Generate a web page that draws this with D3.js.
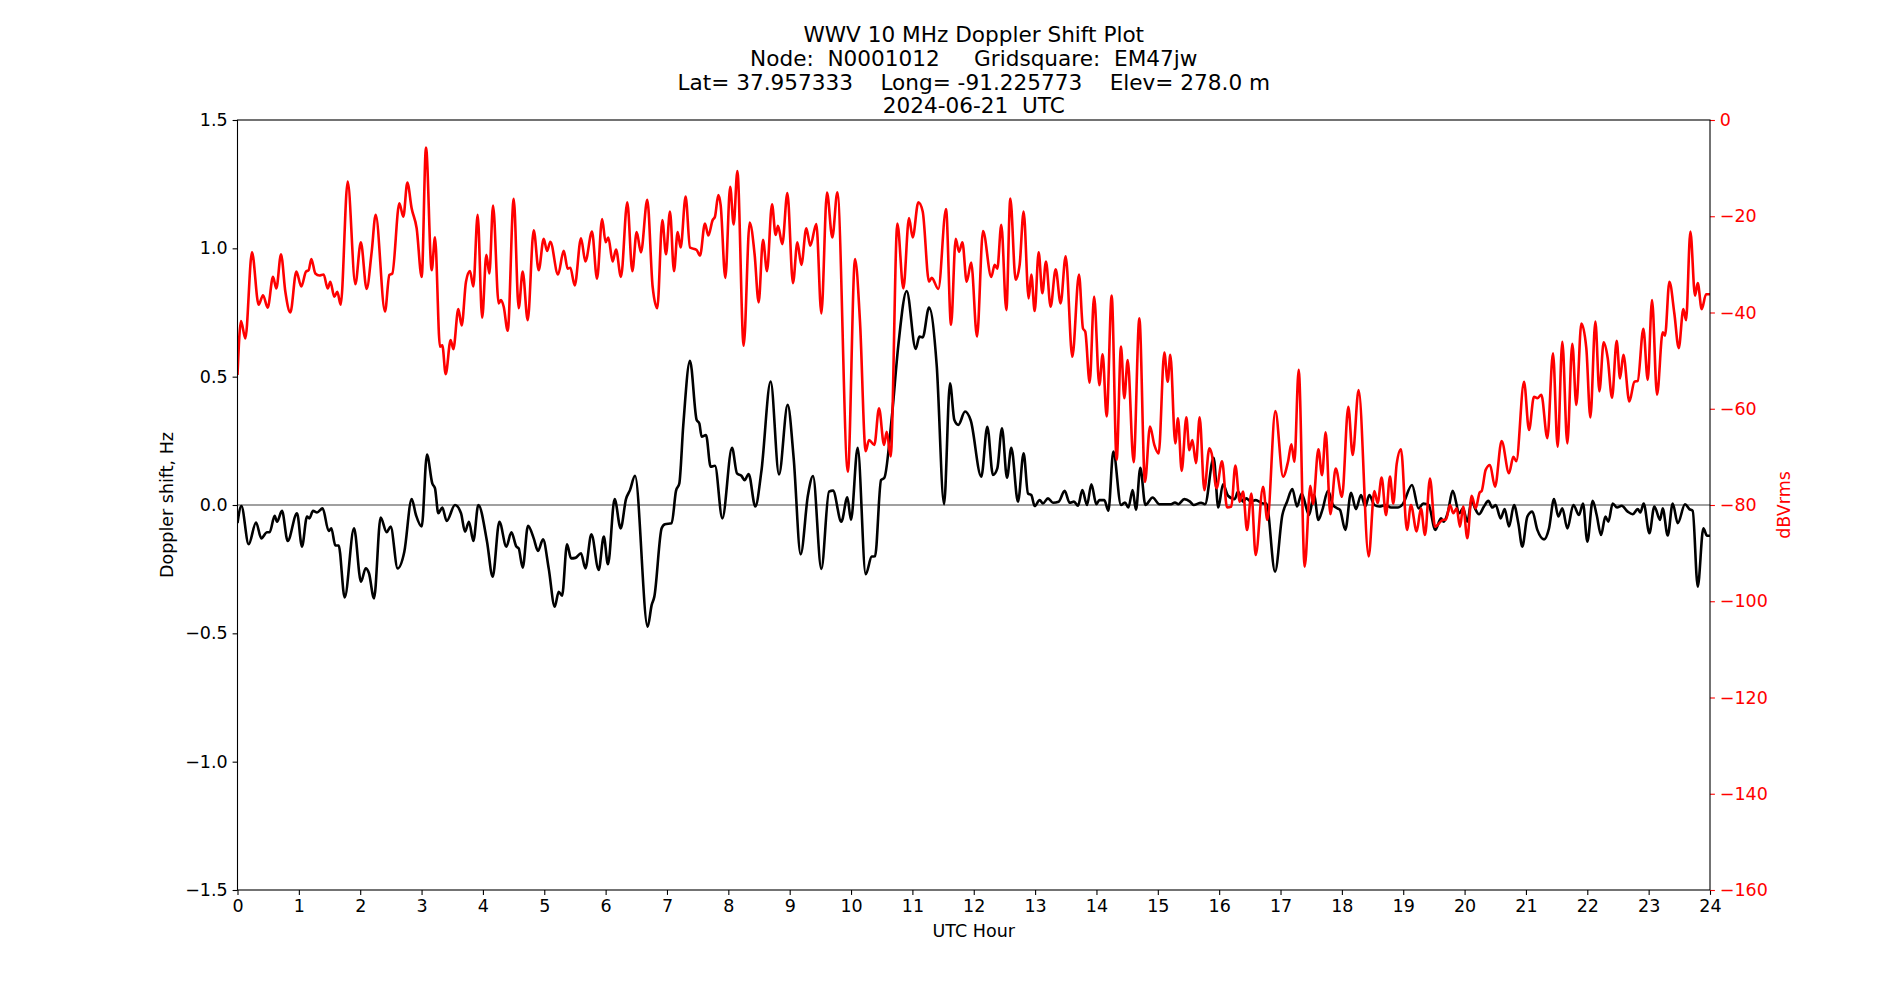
<!DOCTYPE html>
<html lang="en"><head>
<meta charset="utf-8">
<title>WWV Doppler Shift Plot</title>
<script src="https://cdn.jsdelivr.net/npm/d3@7"></script>
<style>
body { margin: 0; background: #fff; }
text { font-family: "DejaVu Sans", sans-serif; }
</style>
</head>
<body>
<script type="text/javascript">

var width = 1900;
var height = 1000;

var titleLines = [
    "WWV 10 MHz Doppler Shift Plot",
    "Node:  N0001012     Gridsquare:  EM47jw",
    "Lat= 37.957333    Long= -91.225773    Elev= 278.0 m",
    "2024-06-21  UTC"
];

var hourTicks = d3.range(0, 25);
var hzTicks = [-1.5, -1.0, -0.5, 0.0, 0.5, 1.0, 1.5];
var dbTicks = [-160, -140, -120, -100, -80, -60, -40, -20, 0];

// Doppler shift (Hz) vs UTC hour
var doppler = [
    [0.0, -0.07], [0.063, -0.004], [0.182, -0.153], [0.302, -0.068], [0.389, -0.13],
    [0.481, -0.106], [0.524, -0.106], [0.606, -0.042], [0.644, -0.065], [0.725, -0.023],
    [0.818, -0.14], [0.970, -0.032], [1.051, -0.162], [1.133, -0.045], [1.171, -0.052],
    [1.231, -0.023], [1.296, -0.029], [1.388, -0.013], [1.486, -0.101], [1.529, -0.091],
    [1.595, -0.158], [1.649, -0.158], [1.747, -0.36], [1.899, -0.091], [2.013, -0.299],
    [2.089, -0.247], [2.143, -0.266], [2.225, -0.364], [2.333, -0.049], [2.431, -0.106],
    [2.496, -0.084], [2.610, -0.247], [2.719, -0.182], [2.839, 0.023], [2.909, -0.039],
    [3.002, -0.084], [3.088, 0.197], [3.175, 0.084], [3.219, 0.065], [3.273, -0.032],
    [3.338, -0.01], [3.409, -0.062], [3.545, 0.0], [3.643, -0.032], [3.708, -0.104],
    [3.773, -0.065], [3.844, -0.14], [3.925, 0.0], [4.067, -0.143], [4.159, -0.279],
    [4.268, -0.065], [4.382, -0.162], [4.464, -0.106], [4.545, -0.162], [4.583, -0.169],
    [4.648, -0.244], [4.735, -0.081], [4.828, -0.13], [4.898, -0.179], [4.980, -0.134],
    [5.072, -0.247], [5.170, -0.396], [5.235, -0.338], [5.290, -0.353], [5.371, -0.153],
    [5.436, -0.208], [5.507, -0.206], [5.599, -0.188], [5.670, -0.247], [5.768, -0.114],
    [5.887, -0.253], [5.970, -0.123], [6.038, -0.231], [6.147, 0.023], [6.245, -0.091],
    [6.332, 0.023], [6.397, 0.058], [6.479, 0.114], [6.685, -0.474], [6.750, -0.39],
    [6.794, -0.357], [6.913, -0.091], [6.967, -0.075], [7.076, -0.071], [7.147, 0.055],
    [7.201, 0.084], [7.266, 0.312], [7.375, 0.562], [7.484, 0.331], [7.527, 0.318],
    [7.565, 0.266], [7.636, 0.273], [7.712, 0.149], [7.782, 0.153], [7.902, -0.052],
    [8.060, 0.223], [8.141, 0.123], [8.212, 0.114], [8.266, 0.097], [8.331, 0.121],
    [8.440, -0.006], [8.538, 0.13], [8.690, 0.481], [8.826, 0.119], [8.967, 0.39],
    [9.065, 0.182], [9.179, -0.192], [9.298, 0.039], [9.380, 0.113], [9.516, -0.249],
    [9.641, 0.052], [9.706, 0.056], [9.842, -0.065], [9.940, 0.03], [9.999, -0.058],
    [10.108, 0.223], [10.239, -0.27], [10.337, -0.201], [10.391, -0.2], [10.489, 0.097],
    [10.543, 0.106], [10.663, 0.338], [10.771, 0.623], [10.907, 0.834], [11.054, 0.608],
    [11.114, 0.656], [11.168, 0.653], [11.271, 0.769], [11.396, 0.545], [11.516, 0.003],
    [11.613, 0.474], [11.684, 0.331], [11.749, 0.312], [11.858, 0.364], [11.950, 0.33],
    [12.123, 0.11], [12.221, 0.305], [12.313, 0.117], [12.384, 0.143], [12.460, 0.299],
    [12.542, 0.106], [12.612, 0.223], [12.721, 0.013], [12.813, 0.201], [12.884, 0.045],
    [12.938, 0.039], [12.993, -0.004], [13.074, 0.019], [13.128, 0.006], [13.210, 0.026],
    [13.291, 0.009], [13.384, 0.013], [13.482, 0.055], [13.563, 0.009], [13.634, 0.013],
    [13.699, -0.003], [13.770, 0.058], [13.846, 0.0], [13.917, 0.081], [13.998, 0.003],
    [14.047, 0.019], [14.128, 0.019], [14.194, -0.022], [14.275, 0.208], [14.400, 0.0],
    [14.465, 0.01], [14.520, -0.01], [14.590, 0.058], [14.644, -0.019], [14.715, 0.145],
    [14.797, 0.0], [14.916, 0.029], [15.025, 0.003], [15.215, 0.003], [15.280, 0.01],
    [15.334, 0.003], [15.432, 0.023], [15.525, 0.013], [15.584, 0.0], [15.704, 0.009],
    [15.769, 0.003], [15.910, 0.184], [15.986, -0.01], [16.063, 0.081], [16.145, 0.036],
    [16.253, 0.023], [16.307, 0.052], [16.389, 0.013], [16.443, 0.026], [16.514, 0.013],
    [16.595, 0.019], [16.715, 0.006], [16.769, 0.006], [16.911, -0.26], [17.030, -0.039],
    [17.106, 0.013], [17.193, 0.062], [17.269, -0.006], [17.345, 0.045], [17.465, -0.039],
    [17.546, 0.039], [17.617, -0.058], [17.682, -0.019], [17.774, 0.055], [17.856, 0.0],
    [17.926, -0.013], [17.969, -0.019], [18.056, -0.097], [18.149, 0.048], [18.230, -0.016],
    [18.312, 0.039], [18.382, -0.006], [18.447, 0.039], [18.529, 0.0], [18.610, -0.006],
    [18.719, 0.0], [18.800, -0.01], [18.909, -0.01], [18.991, 0.003], [19.143, 0.078],
    [19.251, -0.013], [19.327, 0.006], [19.414, 0.0], [19.523, -0.097], [19.615, -0.052],
    [19.659, -0.065], [19.724, -0.032], [19.806, 0.055], [19.915, -0.032], [19.974, -0.013],
    [20.045, -0.065], [20.115, 0.019], [20.170, -0.013], [20.235, -0.036], [20.316, -0.006],
    [20.387, 0.016], [20.452, -0.01], [20.507, 0.0], [20.588, -0.052], [20.653, -0.016],
    [20.724, -0.084], [20.806, 0.0], [20.876, -0.071], [20.941, -0.162], [21.023, -0.045],
    [21.104, -0.026], [21.186, -0.097], [21.295, -0.134], [21.376, -0.091], [21.458, 0.023],
    [21.528, -0.045], [21.593, -0.013], [21.675, -0.091], [21.773, 0.0], [21.865, -0.039],
    [21.930, 0.006], [22.001, -0.143], [22.088, 0.016], [22.153, -0.039], [22.224, -0.117],
    [22.295, -0.045], [22.344, -0.065], [22.414, 0.006], [22.485, -0.01], [22.561, -0.003],
    [22.659, -0.026], [22.740, -0.036], [22.822, -0.016], [22.865, -0.029], [22.919, 0.006],
    [23.012, -0.11], [23.093, -0.006], [23.186, -0.058], [23.229, -0.013], [23.311, -0.119],
    [23.392, 0.006], [23.474, -0.071], [23.593, 0.003], [23.664, -0.016], [23.718, -0.023],
    [23.800, -0.318], [23.892, -0.091], [23.952, -0.12], [24.0, -0.12]
];

// received power (dBVrms) vs UTC hour
var power = [
    [0.0, -53], [0.057, -41.8], [0.128, -45.4], [0.236, -27.5], [0.345, -38.4],
    [0.416, -36.4], [0.492, -39.0], [0.579, -32.6], [0.633, -35.0], [0.709, -27.9],
    [0.780, -35.7], [0.861, -40.0], [0.959, -31.5], [1.040, -34.6], [1.116, -31.5],
    [1.160, -31.2], [1.203, -28.9], [1.269, -31.9], [1.334, -32.3], [1.404, -32.1],
    [1.470, -35.0], [1.513, -33.6], [1.578, -36.7], [1.627, -35.7], [1.682, -38.4],
    [1.796, -12.8], [1.921, -34.1], [2.010, -25.4], [2.105, -35.1], [2.187, -27.4],
    [2.252, -19.7], [2.404, -39.8], [2.475, -32.2], [2.523, -31.9], [2.638, -17.3],
    [2.703, -20.1], [2.768, -13.0], [2.839, -18.4], [2.920, -22.5], [3.002, -32.6],
    [3.072, -5.7], [3.165, -31.2], [3.219, -24.4], [3.300, -47.1], [3.338, -46.8],
    [3.393, -52.8], [3.474, -45.7], [3.518, -47.6], [3.599, -39.3], [3.654, -42.7],
    [3.724, -33.6], [3.789, -31.4], [3.844, -34.6], [3.914, -19.7], [3.988, -41.1],
    [4.056, -28.0], [4.105, -31.9], [4.165, -17.8], [4.257, -38.1], [4.295, -37.4],
    [4.339, -38.8], [4.404, -43.8], [4.502, -16.4], [4.583, -39.1], [4.648, -31.5],
    [4.730, -41.6], [4.828, -22.9], [4.909, -31.2], [4.991, -24.7], [5.045, -27.2],
    [5.099, -25.3], [5.224, -32.1], [5.317, -27.2], [5.382, -30.9], [5.425, -30.7],
    [5.496, -34.4], [5.599, -24.6], [5.670, -29.4], [5.778, -23.2], [5.860, -33.0],
    [5.943, -20.6], [6.000, -25.4], [6.044, -24.4], [6.114, -29.4], [6.169, -26.9],
    [6.250, -32.6], [6.353, -17.1], [6.435, -31.4], [6.506, -23.3], [6.576, -27.5],
    [6.679, -16.6], [6.766, -34.6], [6.842, -39.1], [6.924, -20.8], [6.984, -27.9],
    [7.049, -19.0], [7.114, -31.4], [7.174, -23.3], [7.223, -26.5], [7.304, -15.9],
    [7.375, -26.5], [7.484, -27.0], [7.538, -28.2], [7.619, -21.5], [7.674, -24.0],
    [7.744, -20.8], [7.782, -20.1], [7.837, -15.6], [7.875, -17.7], [7.951, -32.8],
    [8.030, -13.9], [8.087, -21.7], [8.147, -10.6], [8.250, -46.9], [8.348, -21.3],
    [8.429, -28.0], [8.494, -37.9], [8.565, -24.9], [8.630, -31.4], [8.712, -17.5],
    [8.771, -23.9], [8.809, -22.0], [8.880, -25.8], [8.962, -15.2], [9.054, -33.9],
    [9.125, -25.4], [9.190, -30.1], [9.271, -22.5], [9.336, -26.1], [9.434, -21.6],
    [9.516, -40.2], [9.608, -15.1], [9.695, -24.4], [9.777, -15.0], [9.948, -73.1],
    [10.065, -28.9], [10.146, -41.9], [10.239, -68.8], [10.293, -66.5], [10.380, -67.5],
    [10.456, -59.9], [10.538, -67.5], [10.581, -64.8], [10.646, -69.9], [10.755, -21.5],
    [10.853, -35.0], [10.945, -20.4], [11.005, -24.4], [11.097, -17.1], [11.168, -19.0],
    [11.271, -33.6], [11.315, -32.8], [11.423, -35.1], [11.548, -18.5], [11.630, -42.6],
    [11.706, -24.7], [11.760, -27.4], [11.815, -25.4], [11.885, -33.6], [11.958, -29.6],
    [12.053, -45.0], [12.151, -23.1], [12.286, -32.6], [12.341, -30.1], [12.384, -30.9],
    [12.449, -21.8], [12.531, -39.5], [12.596, -16.3], [12.683, -33.2], [12.748, -30.1],
    [12.813, -19.0], [12.895, -37.1], [12.938, -32.1], [12.993, -39.7], [13.058, -27.5],
    [13.118, -36.0], [13.177, -29.4], [13.253, -38.8], [13.335, -31.0], [13.416, -38.1],
    [13.498, -28.3], [13.607, -49.2], [13.715, -32.1], [13.780, -43.3], [13.818, -44.0],
    [13.889, -54.6], [13.962, -36.7], [14.047, -55.1], [14.101, -48.7], [14.166, -61.6],
    [14.248, -36.5], [14.329, -70.6], [14.400, -47.1], [14.454, -57.8], [14.509, -49.9],
    [14.606, -71.1], [14.699, -41.2], [14.791, -75.2], [14.873, -63.7], [14.943, -67.5],
    [15.014, -69.3], [15.106, -48.3], [15.161, -54.4], [15.204, -48.8], [15.285, -67.2],
    [15.329, -62.0], [15.389, -72.9], [15.465, -61.8], [15.514, -68.6], [15.563, -66.5],
    [15.622, -71.3], [15.682, -61.8], [15.758, -76.9], [15.840, -68.2], [15.878, -69.3],
    [15.957, -76.5], [16.047, -70.9], [16.128, -80.5], [16.199, -80.3], [16.264, -71.8],
    [16.335, -79.3], [16.389, -77.2], [16.454, -85.2], [16.525, -77.6], [16.595, -90.4],
    [16.715, -76.2], [16.786, -83.1], [16.916, -60.5], [17.041, -74.1], [17.122, -71.0],
    [17.177, -67.4], [17.226, -71.0], [17.296, -51.9], [17.394, -92.8], [17.486, -76.0],
    [17.530, -79.8], [17.617, -68.4], [17.677, -73.8], [17.736, -64.9], [17.812, -81.9],
    [17.899, -72.4], [18.002, -78.3], [18.105, -59.6], [18.176, -69.6], [18.273, -56.1],
    [18.437, -90.7], [18.529, -77.1], [18.583, -79.6], [18.648, -74.3], [18.719, -82.1],
    [18.784, -74.1], [18.838, -79.7], [18.893, -71.5], [18.963, -68.4], [19.061, -85.2],
    [19.126, -80.0], [19.219, -85.5], [19.289, -80.7], [19.355, -86.2], [19.436, -74.5],
    [19.518, -84.5], [19.643, -83.1], [19.697, -83.0], [19.762, -80.0], [19.817, -81.7],
    [19.871, -80.7], [19.925, -84.5], [19.977, -80.3], [20.045, -86.9], [20.115, -78.1],
    [20.181, -80.7], [20.246, -77.4], [20.278, -77.1], [20.344, -72.7], [20.414, -71.7],
    [20.496, -76.2], [20.604, -66.7], [20.724, -73.4], [20.795, -70.0], [20.843, -70.9],
    [20.969, -54.4], [21.050, -64.4], [21.131, -57.5], [21.186, -57.8], [21.251, -57.1],
    [21.349, -66.1], [21.441, -48.5], [21.517, -67.9], [21.593, -46.1], [21.674, -67.2],
    [21.756, -46.5], [21.821, -59.2], [21.903, -42.3], [21.984, -47.4], [22.050, -61.8],
    [22.132, -41.9], [22.197, -56.4], [22.267, -46.2], [22.333, -49.5], [22.403, -57.7],
    [22.479, -45.9], [22.534, -53.7], [22.588, -48.8], [22.686, -58.5], [22.767, -54.4],
    [22.822, -54.2], [22.914, -43.4], [22.985, -54.0], [23.055, -37.4], [23.137, -57.1],
    [23.229, -44.1], [23.267, -44.8], [23.338, -33.6], [23.419, -40.2], [23.490, -47.4],
    [23.566, -39.3], [23.610, -41.6], [23.680, -23.2], [23.756, -36.5], [23.800, -33.9],
    [23.865, -39.3], [23.936, -36.2], [24.0, -36.2]
];

var plotLeft = 237.5, plotRight = 1710, plotTop = 120, plotBottom = 890;
var tickLen = 4.9, tickPad = 4.9;
var tickFont = "17.5px";

var svg = d3.select("body").append("svg")
            .attr("width", width)
            .attr("height", height);

var x = d3.scaleLinear().domain([0, 24]).range([plotLeft, plotRight]);
var yHz = d3.scaleLinear().domain([-1.5, 1.5]).range([plotBottom, plotTop]);
var yDb = d3.scaleLinear().domain([-160, 0]).range([plotBottom, plotTop]);

// zero line
svg.append("line")
    .attr("x1", x(0)).attr("x2", x(24))
    .attr("y1", yHz(0)).attr("y2", yHz(0))
    .attr("stroke", "#808080")
    .attr("stroke-width", 1.4);

svg.append("clipPath").attr("id", "plotclip")
    .append("rect")
    .attr("x", plotLeft).attr("y", plotTop)
    .attr("width", plotRight - plotLeft).attr("height", plotBottom - plotTop);

var dopplerLine = d3.line()
    .x((d) => x(d[0]))
    .y((d) => yHz(d[1]))
    .curve(d3.curveMonotoneX);

var powerLine = d3.line()
    .x((d) => x(d[0]))
    .y((d) => yDb(d[1]))
    .curve(d3.curveMonotoneX);

svg.append("path")
    .datum(doppler)
    .attr("d", dopplerLine)
    .attr("clip-path", "url(#plotclip)")
    .attr("fill", "none")
    .attr("stroke", "#000000")
    .attr("stroke-width", 2.6)
    .attr("stroke-linejoin", "round");

svg.append("path")
    .datum(power)
    .attr("d", powerLine)
    .attr("clip-path", "url(#plotclip)")
    .attr("fill", "none")
    .attr("stroke", "#ff0000")
    .attr("stroke-width", 2.6)
    .attr("stroke-linejoin", "round");

// axes
var xAxis = d3.axisBottom(x).tickValues(hourTicks).tickFormat(d3.format("d"))
    .tickSize(tickLen).tickSizeOuter(0).tickPadding(tickPad);
var leftAxis = d3.axisLeft(yHz).tickValues(hzTicks).tickFormat(d3.format(".1f"))
    .tickSize(tickLen).tickSizeOuter(0).tickPadding(tickPad);
var rightAxis = d3.axisRight(yDb).tickValues(dbTicks).tickFormat(d3.format("d"))
    .tickSize(tickLen).tickSizeOuter(0).tickPadding(tickPad);

function styleAxis(g, color) {
    g.select(".domain").remove();
    g.selectAll(".tick line").attr("stroke", color).attr("stroke-width", 1.1);
    g.selectAll(".tick text")
        .attr("fill", color)
        .style("font-family", "'DejaVu Sans', sans-serif")
        .style("font-size", tickFont);
}

svg.append("g")
    .attr("transform", `translate(0,${plotBottom})`)
    .call(xAxis)
    .call((g) => styleAxis(g, "#000"));

svg.append("g")
    .attr("transform", `translate(${plotLeft},0)`)
    .call(leftAxis)
    .call((g) => styleAxis(g, "#000"));

svg.append("g")
    .attr("transform", `translate(${plotRight},0)`)
    .call(rightAxis)
    .call((g) => styleAxis(g, "#ff0000"));

// frame
svg.append("rect")
    .attr("x", plotLeft).attr("y", plotTop)
    .attr("width", plotRight - plotLeft).attr("height", plotBottom - plotTop)
    .attr("fill", "none")
    .attr("stroke", "#000")
    .attr("stroke-width", 1.1);

// labels
svg.append("text")
    .attr("x", (plotLeft + plotRight) / 2)
    .attr("y", 937)
    .attr("text-anchor", "middle")
    .style("font-size", "17.5px")
    .text("UTC Hour");

svg.append("text")
    .attr("transform", `translate(173,${(plotTop + plotBottom) / 2}) rotate(-90)`)
    .attr("text-anchor", "middle")
    .style("font-size", "17.5px")
    .text("Doppler shift, Hz");

svg.append("text")
    .attr("transform", `translate(1790,${(plotTop + plotBottom) / 2}) rotate(-90)`)
    .attr("text-anchor", "middle")
    .attr("fill", "#ff0000")
    .style("font-size", "17.5px")
    .text("dBVrms");

svg.append("g")
    .selectAll("text")
    .data(titleLines)
    .enter()
    .append("text")
    .attr("x", (plotLeft + plotRight) / 2)
    .attr("y", (d, i) => 42 + i * 23.8)
    .attr("text-anchor", "middle")
    .style("font-size", "21.6px")
    .style("white-space", "pre")
    .text((d) => d);

</script>
</body></html>
